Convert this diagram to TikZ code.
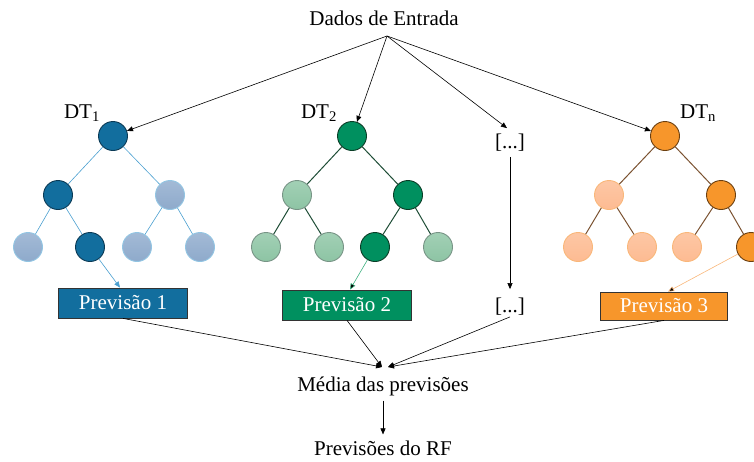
\documentclass[tikz,border=0pt]{standalone}
\usepackage{fontspec}
\setmainfont{Liberation Serif}
\usetikzlibrary{arrows.meta}

\definecolor{bluD}{HTML}{126E9E}
\definecolor{bluB}{HTML}{0B3A55}
\definecolor{bluL}{HTML}{8EAACB}
\definecolor{bluT}{HTML}{A3BAD6}
\definecolor{bluE}{HTML}{4A9FD0}
\definecolor{grnD}{HTML}{00905F}
\definecolor{grnB}{HTML}{0B3D26}
\definecolor{grnL}{HTML}{8DC4A4}
\definecolor{grnT}{HTML}{A2D0B5}
\definecolor{grnE}{HTML}{1E4D36}
\definecolor{grnA}{HTML}{3DB07F}
\definecolor{orgD}{HTML}{F7962B}
\definecolor{orgB}{HTML}{6B3F10}
\definecolor{orgL}{HTML}{FDBB92}
\definecolor{orgT}{HTML}{FDC7A5}
\definecolor{orgE}{HTML}{7B5231}
\definecolor{orgA}{HTML}{F9B77A}

\tikzset{
  txt/.style={font=\fontsize{21}{24}\selectfont,inner sep=1pt},
  dt/.style={shape=circle,minimum size=29pt,inner sep=0pt,line width=0.9pt},
  on/.style={dt,draw=#1B,fill=#1D},
  off/.style={dt,draw=#1E!60,top color=#1T,bottom color=#1L},
  offo/.style={dt,draw=orgA,top color=orgT,bottom color=orgL},
  prev/.style={txt,draw=black!80,line width=0.8pt,text=white,fill=#1,minimum width=129pt,minimum height=30pt,inner sep=0pt},
  arr/.style={-{Triangle[length=6pt,width=5pt]},line width=0.6pt}
}

\begin{document}
\begin{tikzpicture}[x=1pt,y=-1pt]
\useasboundingbox (0,0) rectangle (754,461);

\node[txt] (dados) at (384,18) {Dados de Entrada};
\coordinate (src) at (387,36);

% arvore 1
\node[txt] (dt1) at (82,113) {DT\textsubscript{1}};
\node[on=blu] (a0) at (113,136) {};
\node[on=blu] (a1) at (58,195) {};
\node[off=blu] (a2) at (170,195) {};
\node[off=blu] (a3) at (28,247) {};
\node[on=blu] (a4) at (90,247) {};
\node[off=blu] (a5) at (137,247) {};
\node[off=blu] (a6) at (200,247) {};
\path [draw=bluE,line width=0.6pt] (a0) edge (a1) (a0) edge (a2) (a1) edge (a3)
  (a1) edge (a4) (a2) edge (a5) (a2) edge (a6);
\node[prev=bluD] (p1) at (123,303) {Previsão 1};
\path [arr,draw=bluE,-{Triangle[length=6pt,width=5pt,fill=bluE]}] (a4) edge (p1.north -| 120,0);

% arvore 2
\node[txt] (dt2) at (319,113) {DT\textsubscript{2}};
\node[on=grn] (b0) at (352,136) {};
\node[off=grn] (b1) at (297,195) {};
\node[on=grn] (b2) at (408,195) {};
\node[off=grn] (b3) at (266,247) {};
\node[off=grn] (b4) at (329,247) {};
\node[on=grn] (b5) at (375,247) {};
\node[off=grn] (b6) at (438,247) {};
\path [draw=grnE,line width=1pt] (b0) edge (b1) (b0) edge (b2) (b1) edge (b3)
  (b1) edge (b4) (b2) edge (b5) (b2) edge (b6);
\node[prev=grnD] (p2) at (347,305) {Previsão 2};
\path [arr,draw=grnA] (b5) edge (p2.north -| 350,0);

% [...]
\node[txt] (d1) at (510,143) {[...]};
\node[txt] (d2) at (510,307) {[...]};
\path [arr] (d1) edge[shorten <=4pt,shorten >=8pt] (d2);

% arvore n
\node[txt] (dtn) at (698,113) {DT\textsubscript{n}};
\node[on=org] (c0) at (665,136) {};
\node[offo] (c1) at (609,195) {};
\node[on=org] (c2) at (721,195) {};
\node[offo] (c3) at (578,247) {};
\node[offo] (c4) at (642,247) {};
\node[offo] (c5) at (687,247) {};
\node[on=org] (c6) at (751,247) {};
\path [draw=orgE,line width=1pt] (c0) edge (c1) (c0) edge (c2) (c1) edge (c3)
  (c1) edge (c4) (c2) edge (c5) (c2) edge (c6);
\node[prev=orgD,minimum width=127pt,minimum height=28pt] (p3) at (664,306) {Previsão 3};
\path [arr,draw=orgA] (c6) edge (p3.north -| 668,0);

% entrada
\path [arr] (src) edge (a0);
\path [arr] (src) edge (b0);
\path [arr] (src) edge ([yshift=5pt]d1.north -| 507,0);
\path [arr] (src) edge (c0);

% media
\node[txt] (media) at (383,386) {Média das previsões};
\node[txt] (rf) at (383,448) {Previsões do RF};
\coordinate (mL) at (382,367);
\coordinate (mR) at (388,367);
\path [arr] (p1.south) edge (mL);
\path [arr] (p2.south) edge (mL);
\path [arr] (d2.south) edge (mR);
\path [arr] (p3.south) edge (mR);
\path [arr] (media) edge[shorten <=4pt,shorten >=5pt] (rf);
\end{tikzpicture}
\end{document}
